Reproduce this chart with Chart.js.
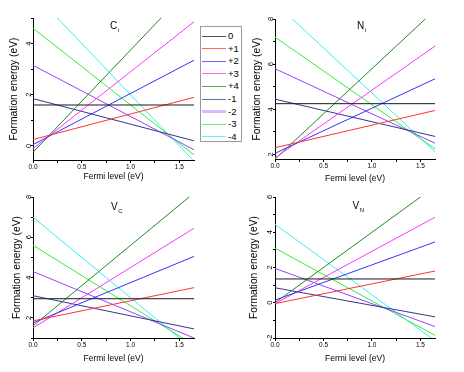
<!DOCTYPE html>
<html>
<head>
<meta charset="utf-8">
<script src="https://cdn.jsdelivr.net/npm/chart.js@4.4.0/dist/chart.umd.min.js"></script>
<style>
  html, body { margin: 0; padding: 0; background: #fff; }
  #fig { position: relative; width: 464px; height: 372px; overflow: hidden; }
  #fig canvas { position: absolute; }
  #legend {
    position: absolute; left: 200px; top: 26px; width: 42px; height: 116px;
    border: 1px solid #999; box-sizing: border-box; background: #fff;
    font: 9.5px "Liberation Sans", Arial, sans-serif; color: #000;
  }
  #legend .sw { position: absolute; left: 1px; width: 24px; opacity: 0.75; }
  #legend .lb { position: absolute; left: 27px; line-height: 10px; }
</style>
</head>
<body>
<div id="fig">
  <canvas id="c-ci" width="232" height="186" style="left:0;top:0"></canvas>
  <canvas id="c-ni" width="232" height="186" style="left:232px;top:0"></canvas>
  <canvas id="c-vc" width="232" height="186" style="left:0;top:186px"></canvas>
  <canvas id="c-vn" width="232" height="186" style="left:232px;top:186px"></canvas>
  <div id="legend"></div>
</div>
<script>
"use strict";

/* ==========================================================
   DATA  (formation energy at Ef = 0 and at Ef = 1.65 eV)
   ========================================================== */
const charges = ["0", "+1", "+2", "+3", "+4", "-1", "-2", "-3", "-4"];
const fermiEnds = [0, 1.65];
const xLabels = [0, 0.5, 1.0, 1.5];

const ciAt0   = [1.6, 0.25, 0.05, -0.1, -0.25, 1.85, 3.15, 4.6, 6.0];
const ciAtEnd = [1.6, 1.9, 3.35, 4.85, 6.35, 0.2, -0.15, -0.35, -0.6];
const ciYLabels = [0, 2, 4];

const niAt0   = [4.25, 2.3, 2.05, 1.85, 1.8, 4.45, 5.8, 7.2, 8.72];
const niAtEnd = [4.25, 3.95, 5.35, 6.8, 8.4, 2.8, 2.5, 2.25, 2.12];
const niYLabels = [2, 4, 6, 8];

const vcAt0   = [2.95, 1.85, 1.75, 1.5, 1.6, 3.1, 4.3, 5.6, 7.0];
const vcAtEnd = [2.95, 3.5, 5.05, 6.45, 8.2, 1.45, 1.0, 0.65, 0.4];
const vcYLabels = [2, 4, 6, 8];

const vnAt0   = [1.35, -0.05, 0.15, -0.05, 0.0, 0.85, 1.95, 3.1, 4.45];
const vnAtEnd = [1.35, 1.8, 3.45, 4.85, 6.6, -0.8, -1.35, -1.85, -2.15];
const vnYLabels = [-2, 0, 2, 4, 6];

const lineColors = ["#1a1a1a", "#ff3333", "#3333ff", "#ff33ff", "#1f8a1f",
                    "#35358f", "#9a40ff", "#33f033", "#33f0f0"];

Chart.defaults.font.family = "'Liberation Sans', Arial, sans-serif";
Chart.defaults.color = "#000";

const W = 232, H = 186;
const FONT = "'Liberation Sans', Arial, sans-serif";

/* panel label like C_i drawn inside the plot */
const panelTitle = {
  id: "panelTitle",
  afterDraw(chart, args, o) {
    const ctx = chart.ctx;
    ctx.save();
    ctx.fillStyle = "#000";
    ctx.textBaseline = "alphabetic";
    ctx.font = "10px " + FONT;
    ctx.fillText(o.main, o.x, o.y);
    const w = ctx.measureText(o.main).width;
    ctx.font = "6px " + FONT;
    ctx.fillText(o.sub, o.x + w + 0.5, o.y + 2.5);
    ctx.restore();
  }
};

const near = (list, v) => list.some(l => Math.abs(l - v) < 1e-6);

function buildPanel(p) {
  const datasets = charges.map((q, i) => ({
    label: q,
    data: [{ x: fermiEnds[0], y: p.start[i] }, { x: fermiEnds[1], y: p.end[i] }],
    borderColor: lineColors[i],
    borderWidth: 1,
    pointRadius: 0,
    fill: false,
  }));

  return new Chart(document.getElementById(p.id), {
    type: "line",
    data: { datasets },
    options: {
      responsive: false,
      animation: false,
      devicePixelRatio: 1,
      events: [],
      layout: { padding: { left: 0, right: W - p.area.right, top: p.area.top, bottom: 0 } },
      plugins: {
        legend: { display: false },
        tooltip: { enabled: false },
        panelTitle: p.title,
      },
      scales: {
        x: {
          type: "linear", min: fermiEnds[0], max: fermiEnds[1],
          border: { color: "#000", width: 1 },
          grid: { drawOnChartArea: false, tickLength: 3, color: "#000" },
          ticks: {
            stepSize: 0.25, includeBounds: false, autoSkip: false, maxRotation: 0,
            padding: 0, font: { size: 6.5 },
            callback: v => near(xLabels, v) ? Number(v).toFixed(1) : "",
          },
          title: { display: true, text: "Fermi level (eV)", font: { size: 8.5 },
                   padding: { top: 0, bottom: p.xTitlePad } },
          afterFit: s => { s.height = H - p.area.bottom; },
        },
        y: {
          type: "linear", min: p.yMin, max: p.yMax,
          border: { color: "#000", width: 1 },
          grid: { drawOnChartArea: false, tickLength: 2, color: "#000" },
          ticks: {
            stepSize: 1, includeBounds: false, autoSkip: false,
            minRotation: 90, maxRotation: 90, crossAlign: "center",
            padding: 0, font: { size: 7.5 },
            callback: v => near(p.yLabels, v) ? String(v) : "",
          },
          title: { display: true, text: "Formation energy (eV)", font: { size: 10.3 },
                   padding: { top: p.yTitlePad, bottom: 0 } },
          afterFit: s => { s.width = p.area.left; },
        },
      },
    },
    plugins: [panelTitle],
  });
}

buildPanel({
  id: "c-ci", start: ciAt0, end: ciAtEnd, yMin: -0.55, yMax: 5, yLabels: ciYLabels,
  area: { left: 33, right: 194, top: 18, bottom: 160 }, xTitlePad: 4, yTitlePad: 8,
  title: { main: "C", sub: "i", x: 110, y: 29 },
});
buildPanel({
  id: "c-ni", start: niAt0, end: niAtEnd, yMin: 1.8, yMax: 8, yLabels: niYLabels,
  area: { left: 43, right: 203, top: 19, bottom: 159 }, xTitlePad: 2, yTitlePad: 19,
  title: { main: "N", sub: "i", x: 125, y: 29 },
});
buildPanel({
  id: "c-vc", start: vcAt0, end: vcAtEnd, yMin: 1, yMax: 8, yLabels: vcYLabels,
  area: { left: 33, right: 194, top: 11, bottom: 152 }, xTitlePad: 8, yTitlePad: 11,
  title: { main: "V", sub: "C", x: 111, y: 24 },
});
buildPanel({
  id: "c-vn", start: vnAt0, end: vnAtEnd, yMin: -2, yMax: 6, yLabels: vnYLabels,
  area: { left: 43, right: 203, top: 11, bottom: 152 }, xTitlePad: 8, yTitlePad: 16,
  title: { main: "V", sub: "N", x: 120.5, y: 23 },
});

/* shared legend */
const legend = document.getElementById("legend");
charges.forEach((q, i) => {
  const cy = 9 + i * 12.6;
  const thick = i === 6 ? 3 : 1;
  const sw = document.createElement("div");
  sw.className = "sw";
  sw.style.top = Math.round(cy - thick / 2) + "px";
  sw.style.height = thick + "px";
  sw.style.background = i === 6 ? "#c4a6ff" : lineColors[i];
  legend.appendChild(sw);
  const lb = document.createElement("div");
  lb.className = "lb";
  lb.style.top = (cy - 5) + "px";
  lb.textContent = q;
  legend.appendChild(lb);
});
</script>
</body>
</html>
